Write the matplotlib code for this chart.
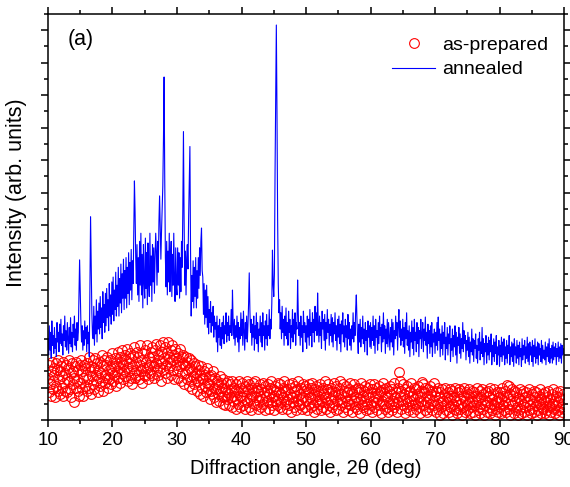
import numpy as np
import matplotlib
matplotlib.use('Agg')
import matplotlib.pyplot as plt
from matplotlib.ticker import MultipleLocator

plt.rcParams['font.family'] = ['Liberation Sans', 'DejaVu Sans']

# 2theta grid, 0.1 deg step (10.0 ... 90.0)
two_theta = np.round(np.arange(10.0, 90.0001, 0.1), 1)

# annealed sample (blue), one row per degree
annealed_rows = [
    [250, 200, 290, 215, 270, 190, 305, 230, 260, 205],   # 10
    [285, 220, 250, 195, 300, 240, 270, 210, 295, 235],
    [310, 230, 265, 200, 290, 245, 320, 225, 275, 215],
    [300, 250, 205, 285, 235, 315, 225, 270, 210, 295],
    [255, 320, 230, 280, 215, 300, 245, 270, 380, 493],
    [400, 300, 240, 290, 215, 275, 230, 305, 250, 285],   # 15
    [210, 290, 235, 270, 195, 400, 626, 480, 330, 260],
    [250, 350, 230, 320, 265, 370, 240, 335, 280, 360],
    [265, 380, 285, 345, 250, 395, 300, 355, 270, 390],
    [290, 405, 315, 370, 275, 420, 320, 385, 295, 425],
    [325, 440, 305, 400, 340, 455, 320, 415, 350, 470],   # 20
    [320, 435, 360, 480, 330, 450, 375, 495, 340, 460],
    [375, 500, 345, 470, 390, 515, 355, 485, 400, 525],
    [370, 490, 420, 580, 736, 640, 500, 420, 540, 385],
    [500, 365, 550, 415, 575, 385, 510, 345, 540, 425],
    [375, 560, 405, 515, 355, 545, 430, 380, 575, 415],   # 25
    [505, 365, 540, 425, 530, 390, 500, 575, 520, 415],
    [550, 455, 610, 690, 590, 495, 580, 650, 720, 862],
    [1056, 740, 500, 410, 550, 385, 520, 425, 575, 395],
    [500, 550, 380, 510, 415, 575, 425, 365, 530, 410],
    [385, 530, 415, 515, 375, 500, 395, 550, 470, 640],   # 30
    [888, 620, 415, 520, 385, 500, 540, 465, 620, 730],
    [842, 520, 320, 445, 365, 490, 345, 470, 380, 500],
    [345, 460, 375, 500, 405, 530, 445, 550, 591, 460],
    [440, 325, 420, 295, 400, 315, 415, 285, 380, 265],
    [340, 300, 365, 270, 330, 290, 350, 255, 320, 280],   # 35
    [300, 240, 320, 210, 290, 255, 310, 230, 285, 220],
    [300, 250, 320, 235, 290, 265, 330, 240, 300, 260],
    [320, 245, 290, 270, 340, 260, 400, 300, 250, 310],
    [230, 290, 255, 320, 240, 300, 210, 285, 250, 330],
    [260, 310, 230, 335, 275, 215, 300, 250, 320, 240],   # 40
    [290, 360, 453, 340, 270, 310, 230, 295, 255, 320],
    [215, 290, 250, 330, 235, 300, 210, 280, 260, 320],
    [240, 300, 225, 330, 260, 290, 215, 305, 250, 325],
    [230, 290, 260, 340, 250, 310, 280, 360, 523, 420],
    [380, 450, 760, 1000, 1216, 950, 620, 420, 330, 370],  # 45
    [280, 330, 250, 350, 270, 310, 230, 320, 260, 345],
    [250, 300, 230, 335, 270, 310, 220, 290, 255, 340],
    [240, 310, 265, 330, 230, 300, 280, 431, 330, 260],
    [300, 230, 320, 255, 290, 210, 335, 270, 300, 240],
    [290, 220, 320, 255, 310, 230, 340, 260, 300, 225],   # 50
    [330, 270, 310, 240, 350, 275, 330, 260, 391, 300],
    [240, 320, 260, 300, 220, 335, 280, 310, 245, 325],
    [215, 300, 250, 340, 270, 310, 230, 295, 260, 325],
    [240, 315, 225, 300, 265, 330, 245, 290, 215, 310],
    [255, 320, 235, 295, 210, 305, 265, 330, 240, 290],   # 55
    [225, 310, 255, 290, 215, 325, 250, 300, 230, 280],
    [215, 290, 250, 330, 240, 300, 260, 340, 385, 310],
    [250, 205, 295, 240, 310, 225, 285, 250, 320, 235],
    [280, 210, 300, 245, 275, 200, 305, 255, 290, 225],
    [300, 220, 285, 245, 320, 230, 290, 205, 310, 255],   # 60
    [275, 215, 300, 235, 320, 260, 285, 210, 295, 240],
    [330, 250, 290, 205, 280, 235, 310, 225, 300, 255],
    [215, 285, 240, 310, 225, 300, 200, 275, 250, 320],
    [260, 300, 215, 290, 340, 255, 305, 230, 280, 245],
    [310, 225, 285, 205, 300, 250, 330, 230, 275, 215],   # 65
    [290, 195, 270, 240, 305, 220, 285, 200, 310, 245],
    [270, 210, 300, 235, 285, 195, 275, 250, 310, 220],
    [265, 300, 210, 280, 245, 317, 230, 270, 190, 295],
    [235, 275, 205, 290, 225, 300, 195, 265, 240, 280],
    [205, 270, 230, 300, 215, 317, 245, 280, 195, 265],   # 70
    [220, 290, 200, 270, 235, 300, 185, 255, 220, 285],
    [200, 265, 235, 290, 180, 250, 215, 280, 195, 260],
    [225, 290, 200, 270, 175, 255, 230, 285, 205, 265],
    [190, 250, 220, 300, 210, 275, 235, 260, 185, 245],
    [215, 270, 195, 255, 175, 240, 210, 280, 200, 250],   # 75
    [180, 245, 220, 265, 190, 230, 175, 250, 215, 270],
    [185, 240, 205, 285, 195, 250, 170, 235, 210, 260],
    [175, 235, 200, 255, 185, 245, 210, 265, 170, 230],
    [195, 250, 180, 240, 205, 260, 170, 225, 200, 245],
    [165, 230, 195, 255, 180, 240, 200, 250, 170, 225],   # 80
    [190, 245, 175, 230, 205, 260, 170, 225, 195, 240],
    [180, 235, 165, 250, 200, 225, 175, 245, 190, 230],
    [170, 240, 195, 220, 165, 250, 185, 230, 200, 245],
    [175, 225, 190, 255, 180, 235, 170, 240, 200, 225],
    [180, 245, 165, 230, 195, 250, 175, 225, 190, 240],   # 85
    [170, 235, 200, 220, 180, 245, 175, 230, 190, 215],
    [185, 240, 170, 225, 195, 235, 180, 250, 175, 220],
    [190, 230, 175, 240, 185, 225, 195, 235, 170, 220],
    [195, 240, 180, 225, 190, 235, 175, 230, 200, 220],
    [205],                                                 # 90.0
]

# as-prepared sample (red circles)
as_prepared_rows = [
    [130, 85, 170, 110, 150, 75, 180, 120, 95, 160],      # 10
    [140, 70, 175, 105, 155, 90, 185, 125, 80, 150],
    [165, 100, 135, 75, 180, 115, 145, 90, 170, 125],
    [85, 160, 120, 185, 95, 145, 70, 175, 110, 150],
    [130, 55, 165, 100, 180, 120, 90, 155, 75, 170],
    [115, 185, 95, 150, 130, 75, 170, 105, 160, 140],     # 15
    [90, 175, 125, 195, 100, 150, 80, 165, 135, 185],
    [110, 160, 95, 190, 140, 120, 175, 85, 155, 130],
    [180, 105, 145, 200, 120, 165, 90, 185, 140, 115],
    [170, 130, 195, 100, 155, 125, 185, 110, 160, 145],
    [205, 120, 165, 140, 190, 105, 175, 150, 210, 130],   # 20
    [160, 195, 115, 180, 145, 215, 125, 170, 150, 200],
    [135, 185, 160, 220, 120, 175, 150, 205, 130, 190],
    [165, 110, 200, 145, 225, 130, 180, 155, 210, 140],
    [195, 125, 170, 230, 150, 185, 115, 205, 160, 140],
    [215, 135, 180, 160, 230, 125, 195, 170, 145, 210],   # 25
    [180, 225, 140, 195, 165, 130, 215, 175, 235, 150],
    [200, 140, 185, 160, 230, 120, 210, 175, 240, 155],
    [190, 145, 225, 170, 205, 130, 240, 160, 195, 180],
    [215, 140, 185, 230, 155, 200, 125, 220, 170, 190],
    [150, 205, 130, 185, 165, 220, 120, 195, 145, 175],   # 30
    [200, 110, 170, 145, 195, 125, 180, 155, 105, 190],
    [160, 120, 185, 95, 150, 135, 175, 110, 165, 130],
    [145, 90, 170, 120, 155, 80, 140, 165, 100, 130],
    [125, 75, 150, 105, 140, 85, 160, 115, 95, 135],
    [110, 65, 140, 90, 125, 80, 150, 100, 70, 130],       # 35
    [95, 55, 120, 80, 110, 60, 135, 90, 115, 70],
    [100, 50, 125, 75, 95, 45, 115, 85, 65, 120],
    [80, 45, 110, 70, 95, 40, 120, 60, 100, 75],
    [90, 35, 110, 65, 85, 50, 120, 75, 40, 100],
    [70, 115, 45, 90, 60, 105, 35, 85, 120, 55],          # 40
    [95, 40, 110, 65, 80, 30, 100, 75, 115, 50],
    [85, 120, 45, 70, 100, 35, 90, 60, 110, 75],
    [40, 95, 65, 115, 50, 85, 30, 105, 70, 90],
    [60, 110, 80, 35, 100, 55, 120, 70, 45, 95],
    [75, 30, 105, 60, 90, 45, 115, 65, 85, 40],           # 45
    [110, 55, 80, 35, 100, 70, 120, 50, 90, 60],
    [35, 95, 65, 110, 45, 80, 25, 100, 70, 115],
    [55, 90, 40, 105, 75, 30, 95, 60, 120, 50],
    [80, 45, 100, 65, 35, 110, 70, 90, 40, 105],
    [60, 95, 30, 85, 50, 110, 70, 40, 100, 65],           # 50
    [115, 45, 80, 25, 95, 60, 105, 35, 75, 90],
    [50, 110, 65, 30, 90, 55, 100, 40, 80, 120],
    [70, 35, 95, 55, 110, 45, 85, 25, 100, 65],
    [90, 40, 75, 115, 50, 85, 30, 105, 60, 80],
    [35, 100, 65, 120, 45, 80, 55, 110, 25, 90],          # 55
    [70, 40, 105, 60, 85, 30, 95, 50, 115, 65],
    [45, 90, 25, 80, 60, 110, 40, 95, 70, 35],
    [100, 55, 85, 20, 95, 65, 115, 45, 75, 40],
    [90, 60, 105, 30, 80, 50, 100, 35, 70, 110],
    [45, 85, 25, 95, 60, 110, 40, 75, 55, 100],           # 60
    [30, 80, 65, 105, 45, 90, 20, 85, 60, 115],
    [50, 95, 35, 75, 100, 40, 70, 25, 90, 55],
    [105, 45, 80, 30, 95, 60, 115, 40, 70, 50],
    [85, 25, 100, 55, 148, 120, 75, 35, 90, 60],
    [110, 45, 80, 20, 95, 65, 40, 105, 55, 85],           # 65
    [30, 90, 60, 115, 45, 75, 25, 100, 65, 50],
    [95, 35, 80, 55, 105, 40, 70, 20, 90, 60],
    [117, 110, 45, 85, 30, 100, 55, 75, 25, 95],
    [65, 40, 105, 50, 80, 30, 90, 60, 115, 45],
    [75, 25, 90, 50, 100, 35, 70, 15, 85, 55],            # 70
    [40, 95, 60, 20, 80, 45, 100, 30, 70, 55],
    [85, 25, 65, 95, 40, 75, 15, 90, 50, 35],
    [70, 100, 30, 60, 20, 85, 45, 95, 35, 65],
    [50, 90, 15, 75, 40, 100, 25, 60, 85, 45],
    [30, 80, 55, 95, 20, 70, 40, 90, 60, 25],             # 75
    [85, 45, 15, 75, 55, 100, 30, 65, 40, 90],
    [20, 70, 50, 95, 35, 80, 15, 60, 45, 85],
    [55, 25, 90, 40, 75, 20, 100, 50, 65, 30],
    [80, 45, 95, 15, 60, 35, 85, 55, 25, 70],
    [40, 85, 20, 65, 100, 45, 75, 30, 90, 55],            # 80
    [25, 70, 108, 50, 105, 35, 80, 15, 60, 95],
    [45, 75, 20, 90, 55, 30, 85, 40, 70, 15],
    [65, 95, 35, 60, 20, 80, 50, 90, 25, 70],
    [40, 85, 55, 15, 75, 30, 95, 45, 65, 20],
    [80, 35, 60, 90, 25, 70, 45, 85, 15, 55],             # 85
    [30, 75, 50, 95, 20, 65, 40, 80, 35, 60],
    [85, 20, 55, 70, 30, 90, 45, 15, 65, 40],
    [25, 80, 50, 95, 35, 60, 20, 75, 45, 85],
    [55, 30, 70, 15, 90, 40, 65, 25, 80, 50],
    [35],                                                  # 90.0
]

annealed = np.concatenate(annealed_rows)
as_prepared = np.concatenate(as_prepared_rows)
assert len(annealed) == len(two_theta), len(annealed)
assert len(as_prepared) == len(two_theta), len(as_prepared)

x_ticks = [10, 20, 30, 40, 50, 60, 70, 80, 90]

fig = plt.figure(figsize=(5.7, 4.87), dpi=100)
ax = fig.add_axes([0.0842, 0.1376, 0.9053, 0.8337])

ax.plot(two_theta, as_prepared, 'o', mfc='none', mec='red', ms=7, mew=0.8,
        label='as-prepared')
ax.plot(two_theta, annealed, '-', color='blue', lw=0.8, label='annealed')

ax.set_xlim(10, 90)
ax.set_ylim(0, 1250)
ax.set_xticks(x_ticks)
ax.xaxis.set_minor_locator(MultipleLocator(5))
ax.yaxis.set_major_locator(MultipleLocator(100))
ax.yaxis.set_minor_locator(MultipleLocator(50))
ax.tick_params(which='both', direction='out', top=True, right=True,
               width=1.1, labelleft=False, labelsize=13.5)
ax.tick_params(which='major', length=5)
ax.tick_params(which='minor', length=3)
for s in ax.spines.values():
    s.set_linewidth(1.1)

ax.set_xlabel('Diffraction angle, 2\u03b8 (deg)', fontsize=14.5, labelpad=7)
ax.set_ylabel('Intensity (arb. units)', fontsize=15.5)
ax.yaxis.set_label_coords(-0.040, 0.56)
ax.text(0.039, 0.936, '(a)', transform=ax.transAxes, fontsize=15.5, va='center')

ax.legend(loc='upper right', bbox_to_anchor=(1.003, 0.988), frameon=False,
          fontsize=14, handlelength=2.2, handletextpad=0.35, labelspacing=0.35)

fig.savefig('out.png', dpi=100)
